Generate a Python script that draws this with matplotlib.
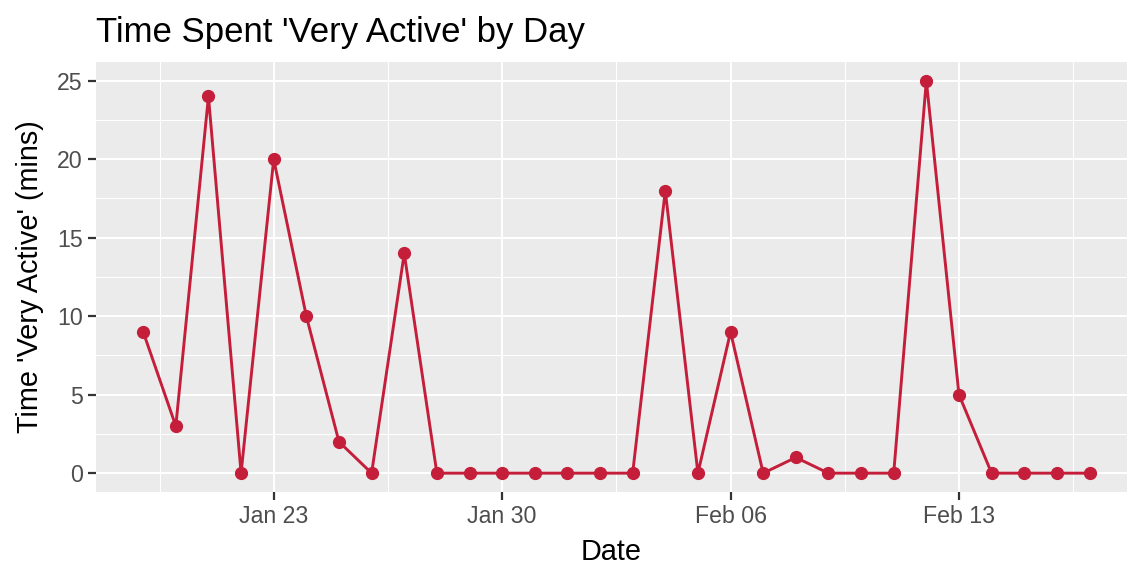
import numpy as np
import pandas as pd
import matplotlib
matplotlib.use("Agg")
import matplotlib.pyplot as plt
import matplotlib.dates as mdates

# data
dates = pd.date_range("2022-01-19", "2022-02-17", freq="D")
very_active = [9, 3, 24, 0, 20, 10, 2, 0, 14, 0,
               0, 0, 0, 0, 0, 0, 18, 0, 9, 0,
               1, 0, 0, 0, 25, 5, 0, 0, 0, 0]
major_ticks = pd.to_datetime(["2022-01-23", "2022-01-30", "2022-02-06", "2022-02-13"])
minor_ticks = pd.to_datetime(["2022-01-19 12:00", "2022-01-26 12:00", "2022-02-02 12:00",
                              "2022-02-09 12:00", "2022-02-16 12:00"])
y_ticks = [0, 5, 10, 15, 20, 25]

plt.rcParams['font.family'] = ['Liberation Sans', 'DejaVu Sans']

W, H = 1127, 568
fig = plt.figure(figsize=(W / 100, H / 100), dpi=100)
l, r, t, b = 96, 1126.7, 61.7, 492
ax = fig.add_axes([l / W, 1 - b / H, (r - l) / W, (b - t) / H])
ax.set_facecolor('#EBEBEB')
for s in ax.spines.values():
    s.set_visible(False)

ax.plot(dates, very_active, color='#C41E3A', lw=2.1, marker='o', ms=8.5, zorder=3)

x0 = mdates.date2num(pd.Timestamp("2022-01-23"))
ax.set_xlim(x0 - 5.446, x0 + 26.14)
ax.set_ylim(-1.2, 26.21)

ax.set_xticks(major_ticks)
ax.set_xticks(minor_ticks, minor=True)
ax.xaxis.set_major_formatter(mdates.DateFormatter('%b %d'))
ax.set_yticks(y_ticks)
ax.set_yticks([2.5, 7.5, 12.5, 17.5, 22.5], minor=True)

ax.grid(which='major', color='white', lw=1.5)
ax.grid(which='minor', color='white', lw=0.75)
ax.set_axisbelow(True)
ax.tick_params(which='major', length=5.5, width=1.6, color='#333333',
               labelsize=16.7, labelcolor='#4D4D4D', pad=4)
ax.tick_params(which='minor', length=0)

ax.set_xlabel('Date', fontsize=20.8, color='black', labelpad=7)
ax.set_ylabel("Time 'Very Active' (mins)", fontsize=20.8, color='black', labelpad=9.5)
ax.set_title("Time Spent 'Very Active' by Day", fontsize=25, loc='left', pad=14)

fig.savefig('out.png', dpi=100)
